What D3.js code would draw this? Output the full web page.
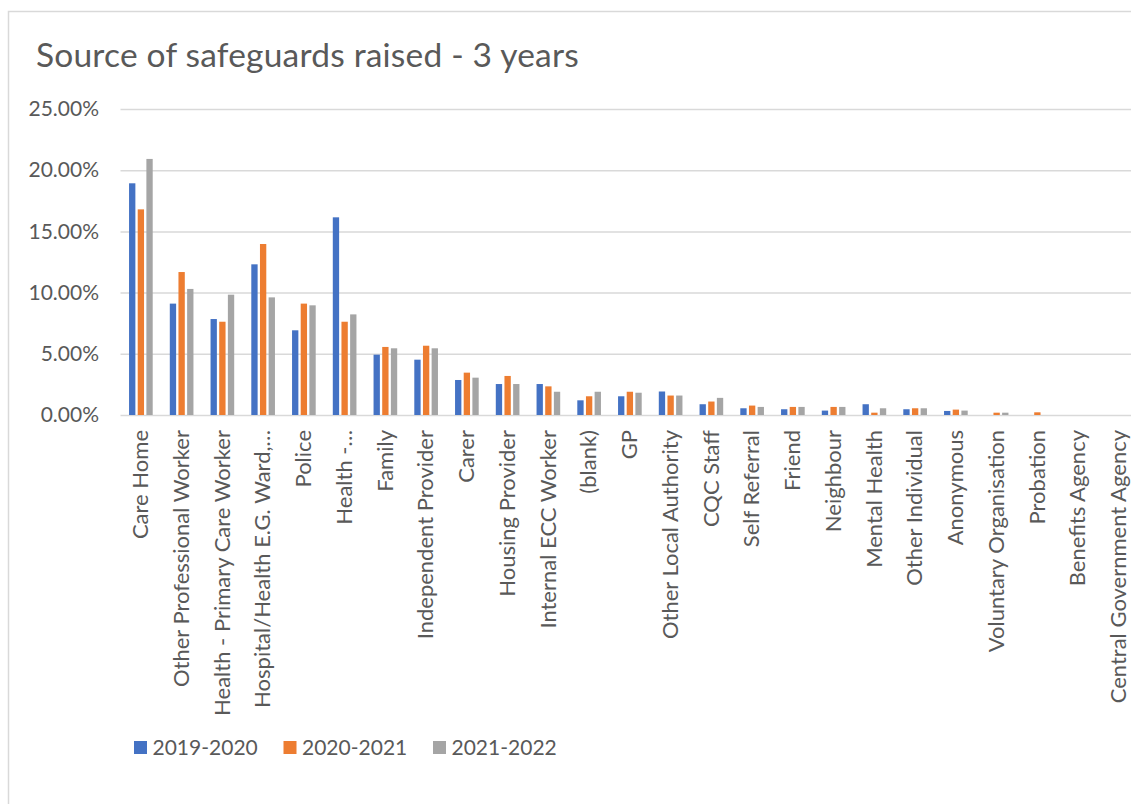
<!DOCTYPE html>
<html>
<head>
<meta charset="utf-8">
<script src="https://cdn.jsdelivr.net/npm/d3@7"></script>
<style>
  html, body { margin: 0; padding: 0; background: #fff; }
  svg { display: block; }
  text { font-family: Lato, "Open Sans", sans-serif; fill: #595959; }
</style>
</head>
<body>
<svg id="chart" width="1131" height="804"></svg>
<script>
const title = "Source of safeguards raised - 3 years";
const categories = ["Care Home","Other Professional Worker","Health - Primary Care Worker","Hospital/Health E.G. Ward,…","Police","Health -…","Family","Independent Provider","Carer","Housing Provider","Internal ECC Worker","(blank)","GP","Other Local Authority","CQC Staff","Self Referral","Friend","Neighbour","Mental Health","Other Individual","Anonymous","Voluntary Organisation","Probation","Benefits Agency","Central Government Agency"];
const seriesNames = ["2019-2020", "2020-2021", "2021-2022"];
const values2019 = [18.93, 9.10, 7.84, 12.31, 6.92, 16.15, 4.93, 4.52, 2.86, 2.53, 2.53, 1.20, 1.53, 1.92, 0.88, 0.55, 0.47, 0.36, 0.88, 0.47, 0.33, 0, 0, 0, 0];
const values2020 = [16.80, 11.68, 7.62, 13.97, 9.10, 7.62, 5.56, 5.66, 3.46, 3.19, 2.34, 1.53, 1.90, 1.59, 1.10, 0.77, 0.66, 0.66, 0.19, 0.55, 0.44, 0.19, 0.22, 0, 0];
const values2021 = [20.92, 10.30, 9.83, 9.61, 8.96, 8.22, 5.45, 5.45, 3.05, 2.53, 1.90, 1.90, 1.82, 1.59, 1.40, 0.66, 0.66, 0.66, 0.55, 0.55, 0.36, 0.19, 0, 0, 0];
const yTicks = [0, 5, 10, 15, 20, 25];
const colors = ["#4472C4", "#ED7D31", "#A5A5A5"];

const allSeries = [values2019, values2020, values2021];
const rows = categories.map((c, i) => ({cat: c, vals: seriesNames.map((s, j) => ({s, v: allSeries[j][i]}))}));

const svg = d3.select("#chart");

// chart border
svg.append("rect").attr("x", 8.5).attr("y", 11.5).attr("width", 1200).attr("height", 900)
  .attr("fill", "#fff").attr("stroke", "#d9d9d9").attr("stroke-width", 1.5);

svg.append("text").attr("x", 36).attr("y", 67).attr("font-size", 33.5).attr("letter-spacing", 0.2).text(title);

const left = 120.5, step = 40.75;
const x0 = d3.scaleBand().domain(categories).range([left, left + step * categories.length]).padding(0);
const x1 = d3.scaleBand().domain(seriesNames).range([-13, 13]).paddingInner(0.27).paddingOuter(0.135);
const y = d3.scaleLinear().domain([0, 25]).range([415, 109]);

// gridlines
const grid = svg.append("g").attr("transform", `translate(${left},0)`)
  .call(d3.axisLeft(y).tickValues(yTicks).tickSize(-1100).tickFormat(""));
grid.select(".domain").remove();
grid.selectAll("line").attr("stroke", "#d9d9d9").attr("stroke-width", 1.5);

// y labels
const yAxis = svg.append("g").attr("transform", "translate(99,0)")
  .call(d3.axisLeft(y).tickValues(yTicks).tickSize(0).tickPadding(0).tickFormat(d => d.toFixed(2) + "%"));
yAxis.select(".domain").remove();
yAxis.selectAll("text").attr("font-size", 21).attr("fill", "#595959").attr("font-family", "Lato, sans-serif");

// bars
const groups = svg.append("g").selectAll("g").data(rows).join("g")
  .attr("transform", d => `translate(${x0(d.cat) + x0.bandwidth() / 2},0)`);
groups.selectAll("rect").data(d => d.vals).join("rect")
  .attr("x", d => x1(d.s))
  .attr("width", x1.bandwidth())
  .attr("y", d => y(d.v))
  .attr("height", d => y(0) - y(d.v))
  .attr("fill", (d, i) => colors[i]);

// x labels
const xAxis = svg.append("g").attr("transform", "translate(0,415)")
  .call(d3.axisBottom(x0).tickSize(0).tickPadding(0));
xAxis.select(".domain").remove();
xAxis.selectAll("text")
  .attr("font-size", 22).attr("fill", "#595959").attr("font-family", "Lato, sans-serif")
  .attr("transform", "rotate(-90)")
  .attr("text-anchor", "end")
  .attr("x", -15).attr("y", -0.5).attr("dy", "0.35em");

// legend
const legend = svg.append("g").selectAll("g").data(seriesNames).join("g")
  .attr("transform", (d, i) => `translate(${134 + i * 149.5},741)`);
legend.append("rect").attr("width", 13).attr("height", 13).attr("fill", (d, i) => colors[i]);
legend.append("text").attr("x", 18.5).attr("y", 6.5).attr("dy", "0.35em").attr("font-size", 21).text(d => d);
</script>
</body>
</html>
